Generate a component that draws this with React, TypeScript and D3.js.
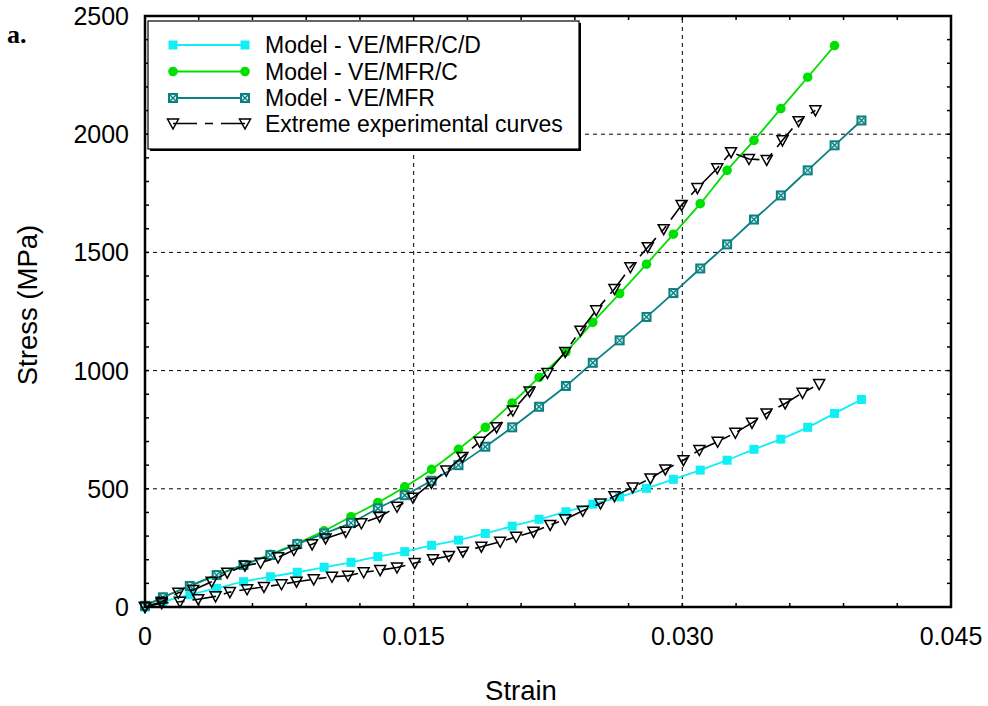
import React, { useEffect, useRef } from "react";
import * as d3 from "d3";

// model curves share one strain grid
const modelStrain = [
  0, 0.001, 0.0025, 0.004, 0.0055, 0.007, 0.0085, 0.01, 0.0115, 0.013, 0.0145,
  0.016, 0.0175, 0.019, 0.0205, 0.022, 0.0235, 0.025, 0.0265, 0.028, 0.0295,
  0.031, 0.0325, 0.034, 0.0355, 0.037, 0.0385, 0.04,
];
const stressCD = [
  0, 22, 52, 79, 107, 128, 147, 168, 189, 213, 234, 261, 283, 311, 342, 371,
  403, 435, 466, 502, 540, 579, 621, 667, 710, 760, 819, 878,
];
const stressC = [
  5, 41, 89, 135, 178, 223, 269, 322, 382, 442, 508, 582, 667, 760, 863, 971,
  1079, 1204, 1326, 1450, 1577, 1706, 1847, 1974, 2108, 2241, 2375,
];
const stressMFR = [
  5, 41, 89, 135, 178, 220, 266, 311, 356, 417, 473, 534, 600, 678, 760, 847,
  935, 1033, 1128, 1227, 1328, 1432, 1534, 1639, 1741, 1847, 1953, 2058,
];

// extreme experimental curves
const expHighStrain = [
  0, 0.00093, 0.00186, 0.00269, 0.00372, 0.00459, 0.00558, 0.00645, 0.00743,
  0.00831, 0.00933, 0.01008, 0.01121, 0.01208, 0.0131, 0.01407, 0.01496,
  0.01599, 0.01682, 0.01772, 0.01868, 0.01963, 0.02054, 0.02147, 0.02247,
  0.02346, 0.02431, 0.02519, 0.02621, 0.0271, 0.02807, 0.02896, 0.02996,
  0.03084, 0.03195, 0.03272, 0.03372, 0.03471, 0.03559, 0.03649, 0.03743,
];
const expHighStress = [
  0, 22, 60, 72, 107, 145, 175, 187, 210, 241, 265, 290, 318, 354, 382, 424,
  462, 525, 577, 635, 699, 760, 831, 912, 990, 1079, 1169, 1255, 1345, 1437,
  1522, 1598, 1700, 1772, 1856, 1924, 1895, 1891, 1974, 2055, 2101,
];
const expLowStrain = [
  0, 0.00093, 0.00195, 0.00297, 0.00394, 0.00474, 0.0057, 0.00664, 0.00762,
  0.00846, 0.00942, 0.01044, 0.01134, 0.01221, 0.01313, 0.01407, 0.01506,
  0.01608, 0.01697, 0.01775, 0.01878, 0.01983, 0.02072, 0.02169, 0.02262,
  0.02346, 0.02444, 0.02543, 0.02621, 0.02723, 0.02822, 0.02905, 0.03006,
  0.03095, 0.03197, 0.03296, 0.03389, 0.0347, 0.03574, 0.03671, 0.03764,
];
const expLowStress = [
  0, 16, 22, 33, 45, 63, 75, 85, 96, 107, 117, 128, 132, 147, 156, 167, 186,
  202, 216, 234, 255, 276, 297, 318, 347, 371, 407, 438, 469, 506, 544, 582,
  621, 664, 699, 737, 779, 819, 861, 906, 943,
];

const xTicks = [0, 0.015, 0.03, 0.045];
const xTickLabels = ["0", "0.015", "0.030", "0.045"];
const yTicks = [0, 500, 1000, 1500, 2000, 2500];
const legendLabels = [
  "Model - VE/MFR/C/D",
  "Model - VE/MFR/C",
  "Model - VE/MFR",
  "Extreme experimental curves",
];

const CYAN = "#10f0f4";
const GREEN = "#00e000";
const TEAL = "#0b8080";
const FONT = "Liberation Sans, Arial, sans-serif";

const App = () => {
  const ref = useRef(null);

  useEffect(() => {
    const W = 988;
    const H = 706;
    const svg = d3.select(ref.current);
    svg.selectAll("*").remove();

    const x = d3.scaleLinear().domain([0, 0.045]).range([145, 951]);
    const y = d3.scaleLinear().domain([0, 2500]).range([607, 16]);
    const [x0, x1] = x.range();
    const [y0, y1] = y.range();

    svg.append("rect").attr("width", W).attr("height", H).attr("fill", "#fff");

    // grid
    const grid = svg.append("g").attr("stroke", "#000").attr("stroke-width", 1).attr("stroke-dasharray", "4,4");
    [0.015, 0.03].forEach((v) =>
      grid.append("line").attr("x1", x(v)).attr("x2", x(v)).attr("y1", y0).attr("y2", y1)
    );
    [500, 1000, 1500, 2000].forEach((v) =>
      grid.append("line").attr("x1", x0).attr("x2", x1).attr("y1", y(v)).attr("y2", y(v))
    );

    // minor ticks, inward
    const ticks = svg.append("g").attr("stroke", "#000").attr("stroke-width", 1.5);
    d3.range(0, 0.0451, 0.003).forEach((v) => {
      ticks.append("line").attr("x1", x(v)).attr("x2", x(v)).attr("y1", y0).attr("y2", y0 - 4);
      ticks.append("line").attr("x1", x(v)).attr("x2", x(v)).attr("y1", y1).attr("y2", y1 + 4);
    });
    d3.range(0, 2501, 100).forEach((v) => {
      ticks.append("line").attr("x1", x0).attr("x2", x0 + 4).attr("y1", y(v)).attr("y2", y(v));
      ticks.append("line").attr("x1", x1).attr("x2", x1 - 4).attr("y1", y(v)).attr("y2", y(v));
    });

    const line = d3
      .line()
      .x((d) => x(d[0]))
      .y((d) => y(d[1]))
      .curve(d3.curveMonotoneX);
    const straight = d3
      .line()
      .x((d) => x(d[0]))
      .y((d) => y(d[1]));

    const zipM = (s) => s.map((v, i) => [modelStrain[i], v]);

    const drawSquare = (g, cx, cy) => {
      g.append("rect").attr("x", cx - 4.5).attr("y", cy - 4.5).attr("width", 9).attr("height", 9).attr("fill", CYAN);
    };
    const drawCircle = (g, cx, cy) => {
      g.append("circle").attr("cx", cx).attr("cy", cy).attr("r", 4.8).attr("fill", GREEN);
    };
    const drawBoxX = (g, cx, cy) => {
      g.append("rect").attr("x", cx - 5).attr("y", cy - 5).attr("width", 10).attr("height", 10).attr("fill", TEAL);
      g.append("rect").attr("x", cx - 3).attr("y", cy - 3).attr("width", 6).attr("height", 6).attr("fill", "#d8eeee");
      g.append("path")
        .attr("d", `M${cx - 3},${cy - 3}L${cx + 3},${cy + 3}M${cx + 3},${cy - 3}L${cx - 3},${cy + 3}`)
        .attr("stroke", TEAL)
        .attr("stroke-width", 1.3);
    };
    const drawTri = (g, cx, cy) => {
      g.append("path")
        .attr("d", `M${cx - 5.5},${cy - 4.5}L${cx + 5.5},${cy - 4.5}L${cx},${cy + 5.5}Z`)
        .attr("fill", "none")
        .attr("stroke", "#000")
        .attr("stroke-width", 1.5);
    };

    const series = [
      { data: zipM(stressCD), color: CYAN, marker: drawSquare },
      { data: zipM(stressC), color: GREEN, marker: drawCircle },
      { data: zipM(stressMFR), color: TEAL, marker: drawBoxX },
    ];
    series.forEach((s) => {
      const g = svg.append("g");
      g.append("path").attr("d", line(s.data)).attr("fill", "none").attr("stroke", s.color).attr("stroke-width", 1.8);
      s.data.forEach((d) => s.marker(g, x(d[0]), y(d[1])));
    });

    const exps = [
      expHighStrain.map((v, i) => [v, expHighStress[i]]),
      expLowStrain.map((v, i) => [v, expLowStress[i]]),
    ];
    exps.forEach((data) => {
      const g = svg.append("g");
      g.append("path")
        .attr("d", straight(data))
        .attr("fill", "none")
        .attr("stroke", "#000")
        .attr("stroke-width", 1.6)
        .attr("stroke-dasharray", "24,8,8,8");
      data.forEach((d) => drawTri(g, x(d[0]), y(d[1])));
    });

    // frame
    svg.append("rect")
      .attr("x", x0).attr("y", y1).attr("width", x1 - x0).attr("height", y0 - y1)
      .attr("fill", "none").attr("stroke", "#000").attr("stroke-width", 2.5);

    // tick labels
    svg.append("g").selectAll("text").data(xTicks).enter().append("text")
      .attr("x", (d) => x(d)).attr("y", 645)
      .attr("text-anchor", "middle")
      .style("font-family", FONT).style("font-size", "25px")
      .text((d, i) => xTickLabels[i]);
    svg.append("g").selectAll("text").data(yTicks).enter().append("text")
      .attr("x", 129).attr("y", (d) => y(d) + 9)
      .attr("text-anchor", "end")
      .style("font-family", FONT).style("font-size", "25px")
      .text((d) => d);

    svg.append("text")
      .attr("x", 521).attr("y", 700).attr("text-anchor", "middle")
      .style("font-family", FONT).style("font-size", "27.5px").text("Strain");
    svg.append("text")
      .attr("transform", "translate(37,305) rotate(-90)").attr("text-anchor", "middle")
      .style("font-family", FONT).style("font-size", "27.5px").text("Stress (MPa)");
    svg.append("text")
      .attr("x", 7).attr("y", 43)
      .style("font-family", "Liberation Serif, Times New Roman, serif").style("font-size", "26px").style("font-weight", "bold")
      .text("a.");

    // legend
    const lg = svg.append("g");
    lg.append("rect").attr("x", 150).attr("y", 23).attr("width", 431).attr("height", 128).attr("fill", "#000");
    lg.append("rect").attr("x", 148).attr("y", 21).attr("width", 431).attr("height", 128).attr("fill", "#fff").attr("stroke", "#000").attr("stroke-width", 1.2);
    const rows = [45, 71.5, 98, 123.5];
    const lx0 = 173;
    const lx1 = 245;
    legendLabels.forEach((label, i) => {
      const ry = rows[i];
      if (i < 3) {
        const s = series[i];
        lg.append("line").attr("x1", lx0).attr("x2", lx1).attr("y1", ry).attr("y2", ry).attr("stroke", s.color).attr("stroke-width", 1.8);
        s.marker(lg, lx0, ry);
        s.marker(lg, lx1, ry);
      } else {
        lg.append("line").attr("x1", lx0).attr("x2", lx1).attr("y1", ry).attr("y2", ry)
          .attr("stroke", "#000").attr("stroke-width", 1.6).attr("stroke-dasharray", "24,8,8,8");
        drawTri(lg, lx0, ry);
        drawTri(lg, lx1, ry);
      }
      lg.append("text").attr("x", 265).attr("y", ry + 8)
        .style("font-family", FONT).style("font-size", "23px").text(label);
    });
  }, []);

  return (
    <svg
      ref={ref}
      width={988}
      height={706}
      style={{ position: "absolute", left: 0, top: 0 }}
    />
  );
};

export default App;
